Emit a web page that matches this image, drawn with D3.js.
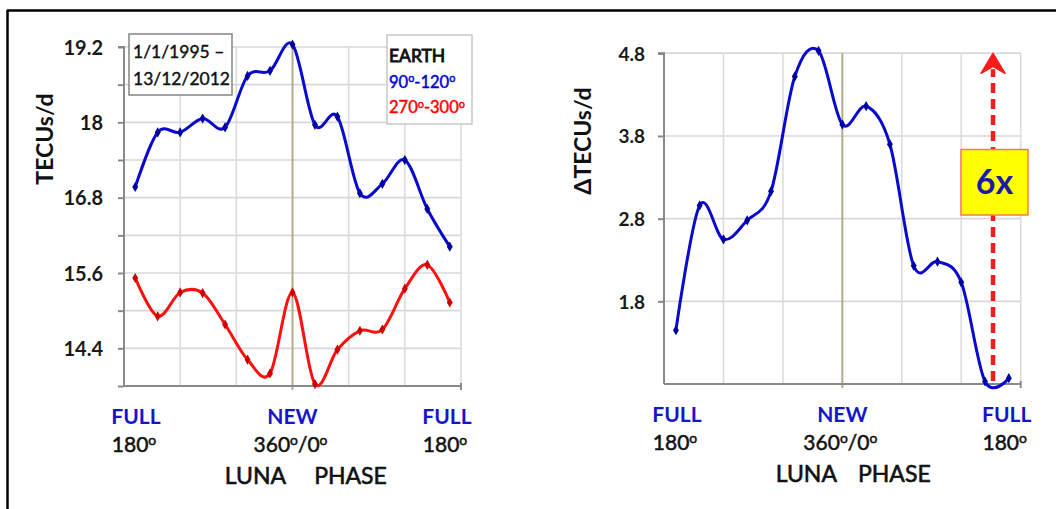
<!DOCTYPE html>
<html><head><meta charset="utf-8">
<script src="https://cdn.jsdelivr.net/npm/d3@7"></script>
<style>
body{margin:0;background:#fff}
svg{display:block}
text{font-family:Lato,"Open Sans",sans-serif}
</style>
</head><body>
<svg id="c" width="1056" height="509"></svg>
<script>
// ---------- data ----------
const phaseCats = [192,216,240,264,288,312,336,360,24,48,72,96,120,144,168]; // bin centres (deg)
const earth90_120  = [16.97,17.84,17.84,18.06,17.92,18.74,18.82,19.24,17.96,18.09,16.87,17.02,17.40,16.62,16.02];
const earth270_300 = [15.52,14.91,15.29,15.28,14.78,14.22,14.00,15.29,13.83,14.38,14.68,14.70,15.35,15.73,15.13];
const deltaTEC     = [1.45,2.96,2.55,2.78,3.13,4.52,4.83,3.94,4.16,3.70,2.23,2.28,2.03,0.83,0.87];
const gridDeg      = [0,60,120,180,240,300,360];       // degrees from full moon
const leftTicks    = [14.4,15.6,16.8,18,19.2];
const leftGrid     = [13.8,14.4,15.0,15.6,16.2,16.8,17.4,18.0,18.6,19.2];
const rightTicks   = [1.8,2.8,3.8,4.8];
const xLabels      = [{deg:0,top:"FULL",bot:"180^o"},{deg:180,top:"NEW",bot:"360^o/0^o"},{deg:360,top:"FULL",bot:"180^o"}];
const dateLines    = ["1/1/1995 \u2013","13/12/2012"];
const legendItems  = [{t:"EARTH",c:"#111"},{t:"90^o-120^o",c:"#0000dd"},{t:"270^o-300^o",c:"#ff0000"}];

const svg = d3.select("#c");
const BLUE = "#0a0acc", RED = "#ff1010";

// frame
svg.append("line").attr("x1",7).attr("x2",1056).attr("y1",10.5).attr("y2",10.5).attr("stroke","#000").attr("stroke-width",2.5);
svg.append("line").attr("x1",7.5).attr("x2",7.5).attr("y1",10).attr("y2",509).attr("stroke","#000").attr("stroke-width",2.5);

function supText(sel, str){
  const k = 0.66, up = 0.5;
  let reset = null;
  str.split(/(\^o)/).forEach(p=>{
    if(!p.length) return;
    if(p==="^o"){
      sel.append("tspan").attr("font-size",k+"em").attr("dy",(-up)+"em").text("o");
      reset = (up*k).toFixed(3)+"em";
    } else {
      const t = sel.append("tspan").text(p);
      if(reset){ t.attr("dy",reset); reset=null; }
    }
  });
}
function heavy(sel,c,w){ return sel.attr("stroke",c).attr("stroke-width",w).attr("paint-order","stroke"); }

function panel(o){
  const g = svg.append("g");
  const xl = d3.scaleLinear().domain([0,360]).range([o.x0,o.x1]);
  const xp = d3.scalePoint().domain(phaseCats).range([o.x0,o.x1]).padding(0.5);
  const y = d3.scaleLinear().domain(o.ydom).range([o.y1,o.y0]);
  g.selectAll(".hg").data(o.grid).join("line")
    .attr("x1",o.x0).attr("x2",o.x1).attr("y1",d=>y(d)).attr("y2",d=>y(d))
    .attr("stroke","#d8d8d8").attr("stroke-width",1.6);
  g.selectAll(".vg").data(gridDeg.filter(d=>d!==0&&d!==180)).join("line")
    .attr("x1",d=>xl(d)).attr("x2",d=>xl(d)).attr("y1",o.y0).attr("y2",o.y1)
    .attr("stroke","#dcdcdc").attr("stroke-width",1.6);
  g.append("line").attr("x1",xl(180)).attr("x2",xl(180)).attr("y1",o.y0).attr("y2",o.y1+4)
    .attr("stroke","#b3ab8e").attr("stroke-width",2);
  const ya = d3.axisLeft(y).tickValues(o.grid).tickSize(6).tickFormat("");
  const ag = g.append("g").attr("transform",`translate(${o.x0},0)`).call(ya);
  ag.selectAll("path,line").attr("stroke","#8a8a8a").attr("stroke-width",2);
  ag.select(".domain").attr("d",`M-6,${o.y0}H0V${o.y1}`);
  g.append("line").attr("x1",o.x0).attr("x2",o.x1).attr("y1",o.y1).attr("y2",o.y1).attr("stroke","#8a8a8a").attr("stroke-width",2.2);
  g.append("line").attr("x1",o.x1).attr("x2",o.x1).attr("y1",o.y1-3).attr("y2",o.y1+4).attr("stroke","#8a8a8a").attr("stroke-width",2);
  g.selectAll(".tl").data(o.ticks).join("text")
    .attr("x",o.labX).attr("y",d=>y(d)).attr("dy","0.38em").attr("text-anchor","end")
    .attr("font-weight","bold").attr("font-size",o.tickFS).attr("fill","#1a1a1a")
    .text(d=>d3.format("")(d));
  g.append("text").attr("transform",`translate(${o.titleX},${o.titleY}) rotate(-90)`)
    .attr("text-anchor","middle").attr("dy","0.35em").attr("font-weight","bold").attr("font-size",23).attr("fill","#111")
    .text(o.title);
  xLabels.forEach(l=>{
    g.append("text").attr("x",xl(l.deg)+o.lblShift[l.deg]).attr("y",o.y1+38).attr("text-anchor","middle")
      .attr("font-weight","bold").attr("font-size",21).attr("fill","#1515cc").text(l.top);
    const t = g.append("text").attr("x",xl(l.deg)+o.lblShift[l.deg]-2).attr("y",o.y1+66).attr("text-anchor","middle")
      .attr("font-size",21).attr("fill","#111");
    heavy(t,"#111",0.5);
    supText(t,l.bot);
  });
  heavy(g.append("text").attr("x",xl(180)-o.lunaOff).attr("y",o.y1+98).attr("text-anchor","middle").attr("font-size",23).attr("fill","#111").text("LUNA"),"#111",0.6);
  heavy(g.append("text").attr("x",xl(180)+o.phaseOff).attr("y",o.y1+98).attr("text-anchor","middle").attr("font-size",23).attr("fill","#111").text("PHASE"),"#111",0.6);
  const line = d3.line().x((d,i)=>xp(phaseCats[i])).y(d=>y(d)).curve(d3.curveCardinal.tension(0));
  o.series.forEach(s=>{
    g.append("path").datum(s.v).attr("d",line).attr("fill","none").attr("stroke",s.c).attr("stroke-width",3);
    g.selectAll(null).data(s.v).join("path")
      .attr("transform",(d,i)=>`translate(${xp(phaseCats[i])},${y(d)})`)
      .attr("d",d3.symbol(d3.symbolDiamond,30)).attr("fill",s.m);
  });
  return {xl,xp,y,g};
}

// ---------- left ----------
const L = panel({x0:124,x1:461,y0:47,y1:386,ydom:[13.8,19.2],grid:leftGrid,ticks:leftTicks,labX:103,tickFS:20,
  title:"TECUs/d",titleX:45,titleY:139,lblShift:{0:12,180:0,360:-14},lunaOff:37,phaseOff:58,
  series:[{v:earth90_120,c:BLUE,m:"#0000a0"},{v:earth270_300,c:RED,m:"#cc0000"}]});

const db = L.g.append("g");
db.append("rect").attr("x",129).attr("y",34).attr("width",103).attr("height",61).attr("fill","#fff").attr("stroke","#8c8c8c").attr("stroke-width",1.6);
dateLines.forEach((t,i)=>heavy(db.append("text").attr("x",133).attr("y",58+i*27).attr("font-size",17.5).attr("fill","#111").text(t),"#111",0.4));

const lb = L.g.append("g");
lb.append("rect").attr("x",387).attr("y",35).attr("width",85).attr("height",89).attr("fill","#fff").attr("stroke","#c4c4c4").attr("stroke-width",1.4);
legendItems.forEach((it,i)=>{
  const t = lb.append("text").attr("x",389).attr("y",62+i*25.6).attr("font-size",i===0?17.5:16.5).attr("fill",it.c);
  heavy(t,it.c,i===0?0.9:0.45);
  supText(t,it.t);
});

// ---------- right ----------
const R = panel({x0:664,x1:1020.7,y0:53.3,y1:384,ydom:[0.8,4.8],grid:rightTicks.concat([4.8]),ticks:rightTicks,labX:645,tickFS:19,
  title:"\u0394TECUs/d",titleX:583,titleY:141,lblShift:{0:13,180:0,360:-14},lunaOff:36,phaseOff:52,
  series:[{v:deltaTEC,c:BLUE,m:"#0000a0"}]});

const ax = 993;
R.g.append("line").attr("x1",ax).attr("x2",ax).attr("y1",R.y(0.8)-3).attr("y2",R.y(4.8)+16)
  .attr("stroke","#ff1a1a").attr("stroke-width",4.5).attr("stroke-dasharray","10,6");
R.g.append("path").attr("d",`M${ax},${R.y(4.8)} L${ax+12},${R.y(4.8)+20} L${ax},${R.y(4.8)+13} L${ax-12},${R.y(4.8)+20}Z`)
  .attr("fill","#ff1a1a").attr("stroke","#ff1a1a").attr("stroke-width",1.5).attr("stroke-linejoin","round");
R.g.append("rect").attr("x",961).attr("y",149.5).attr("width",67).attr("height",65.5)
  .attr("fill","#ffff00").attr("stroke","#ff7a50").attr("stroke-width",1.5);
R.g.append("text").attr("x",994.5).attr("y",194).attr("text-anchor","middle").attr("font-weight","bold")
  .attr("font-size",34).attr("fill","#1a1aa8").text("6x");
</script>
</body></html>
